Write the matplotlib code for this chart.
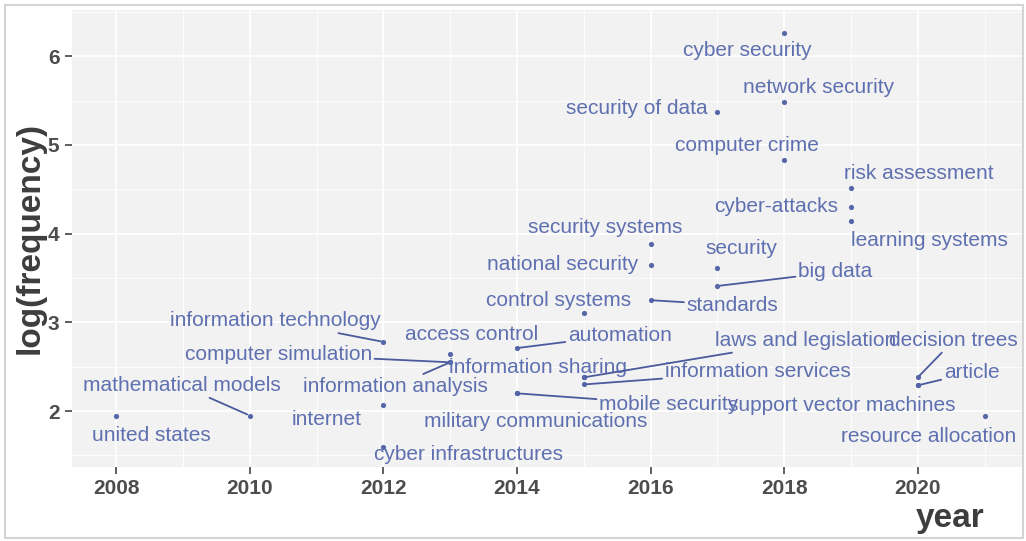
import matplotlib
matplotlib.use("Agg")
import matplotlib.pyplot as plt
from matplotlib.patches import Rectangle
from matplotlib.ticker import MultipleLocator

# Keyword data: first year of appearance and log frequency
keywords = [
    "cyber security", "network security", "security of data", "computer crime",
    "risk assessment", "cyber-attacks", "learning systems", "security systems",
    "national security", "security", "big data", "standards", "control systems",
    "automation", "access control", "computer simulation", "information analysis",
    "information technology", "internet", "mathematical models", "united states",
    "cyber infrastructures", "military communications", "mobile security",
    "information sharing", "laws and legislation", "information services",
    "decision trees", "article", "support vector machines", "resource allocation",
]
years = [
    2018, 2018, 2017, 2018,
    2019, 2019, 2019, 2016,
    2016, 2017, 2017, 2016, 2015,
    2014, 2013, 2013, 2013,
    2012, 2012, 2010, 2008,
    2012, 2014, 2014,
    2015, 2015, 2015,
    2020, 2020, 2020, 2021,
]
log_freq = [
    6.26, 5.48, 5.37, 4.83,
    4.51, 4.30, 4.14, 3.88,
    3.65, 3.61, 3.41, 3.25, 3.10,
    2.71, 2.64, 2.55, 2.55,
    2.78, 2.07, 1.95, 1.95,
    1.59, 2.20, 2.20,
    2.38, 2.38, 2.30,
    2.38, 2.29, 2.29, 1.95,
]

# Repelled label placement (pixel offsets from each point, x right / y down)
label_offsets = [
    (-37, 17), (34, -15), (-81, -4), (-37, -14),
    (68, -15), (-75, 0), (78, 19), (-45, -17),
    (-88, 0), (24, -20), (118, -14), (82, 5), (-25, -13),
    (103, -13), (21, -20), (-172, -8), (-55, 24),
    (-108, -21), (-57, 15), (-68, -30), (35, 20),
    (85, 7), (19, 28), (152, 11),
    (-46, -10), (222, -37), (174, -13),
    (36, -37), (54, -13), (-76, 20), (-56, 21),
]
with_segment = {
    "big data", "standards", "automation", "computer simulation",
    "information analysis", "information technology", "mathematical models",
    "mobile security", "laws and legislation", "information services",
    "decision trees", "article",
}

point_color = "#5567a8"
text_color = "#5f70b0"
segment_color = "#4a5a9c"
axis_text = "#4d4d4d"

plt.rcParams["font.family"] = ["Liberation Sans", "DejaVu Sans"]

fig = plt.figure(figsize=(10.26, 5.41), dpi=100)
W, H = 1026, 541
ax = fig.add_axes([72 / W, (H - 467) / H, (1022 - 72) / W, (467 - 10) / H])

ax.set_facecolor("#f2f2f2")
ax.set_xlim(2007.34, 2021.56)
ax.set_ylim(1.37, 6.52)
ax.xaxis.set_major_locator(MultipleLocator(2))
ax.xaxis.set_minor_locator(MultipleLocator(1))
ax.yaxis.set_major_locator(MultipleLocator(1))
ax.yaxis.set_minor_locator(MultipleLocator(0.5))
ax.grid(which="major", color="white", linewidth=1.3)
ax.grid(which="minor", color="white", linewidth=0.6)
ax.set_axisbelow(True)
for s in ax.spines.values():
    s.set_visible(False)

ax.tick_params(which="major", length=5, width=1.1, color="#333333",
               labelsize=15, labelcolor=axis_text, pad=4)
ax.tick_params(which="minor", length=0)
for lbl in ax.get_xticklabels() + ax.get_yticklabels():
    lbl.set_fontweight("bold")

ax.scatter(years, log_freq, s=14, color=point_color, zorder=3, linewidths=0)

for name, x, y, (dx, dy) in zip(keywords, years, log_freq, label_offsets):
    props = None
    if name in with_segment:
        props = dict(arrowstyle="-", color=segment_color, lw=1.3,
                     shrinkA=0, shrinkB=2)
    ax.annotate(name, xy=(x, y), xytext=(dx, -dy), textcoords="offset pixels",
                ha="center", va="center", fontsize=15, color=text_color,
                arrowprops=props, annotation_clip=False, zorder=4)

ax.set_xlabel("year", fontsize=24, fontweight="bold", color="#3d3d3d")
ax.xaxis.set_label_coords(0.961, -0.112)
ax.xaxis.label.set_ha("right")
ax.xaxis.label.set_va("center")
ax.set_ylabel("log(frequency)", fontsize=24, fontweight="bold", color="#3d3d3d")
ax.yaxis.set_label_coords(-0.044, 0.5)
ax.yaxis.label.set_va("center")

# light outer frame around the figure
fig.patches.append(Rectangle((5 / W, 3 / H), (1023 - 5) / W, (536 - 3) / H,
                             transform=fig.transFigure, fill=False,
                             edgecolor="#d4d4d4", linewidth=1.5))

fig.savefig("out.png", dpi=100)
